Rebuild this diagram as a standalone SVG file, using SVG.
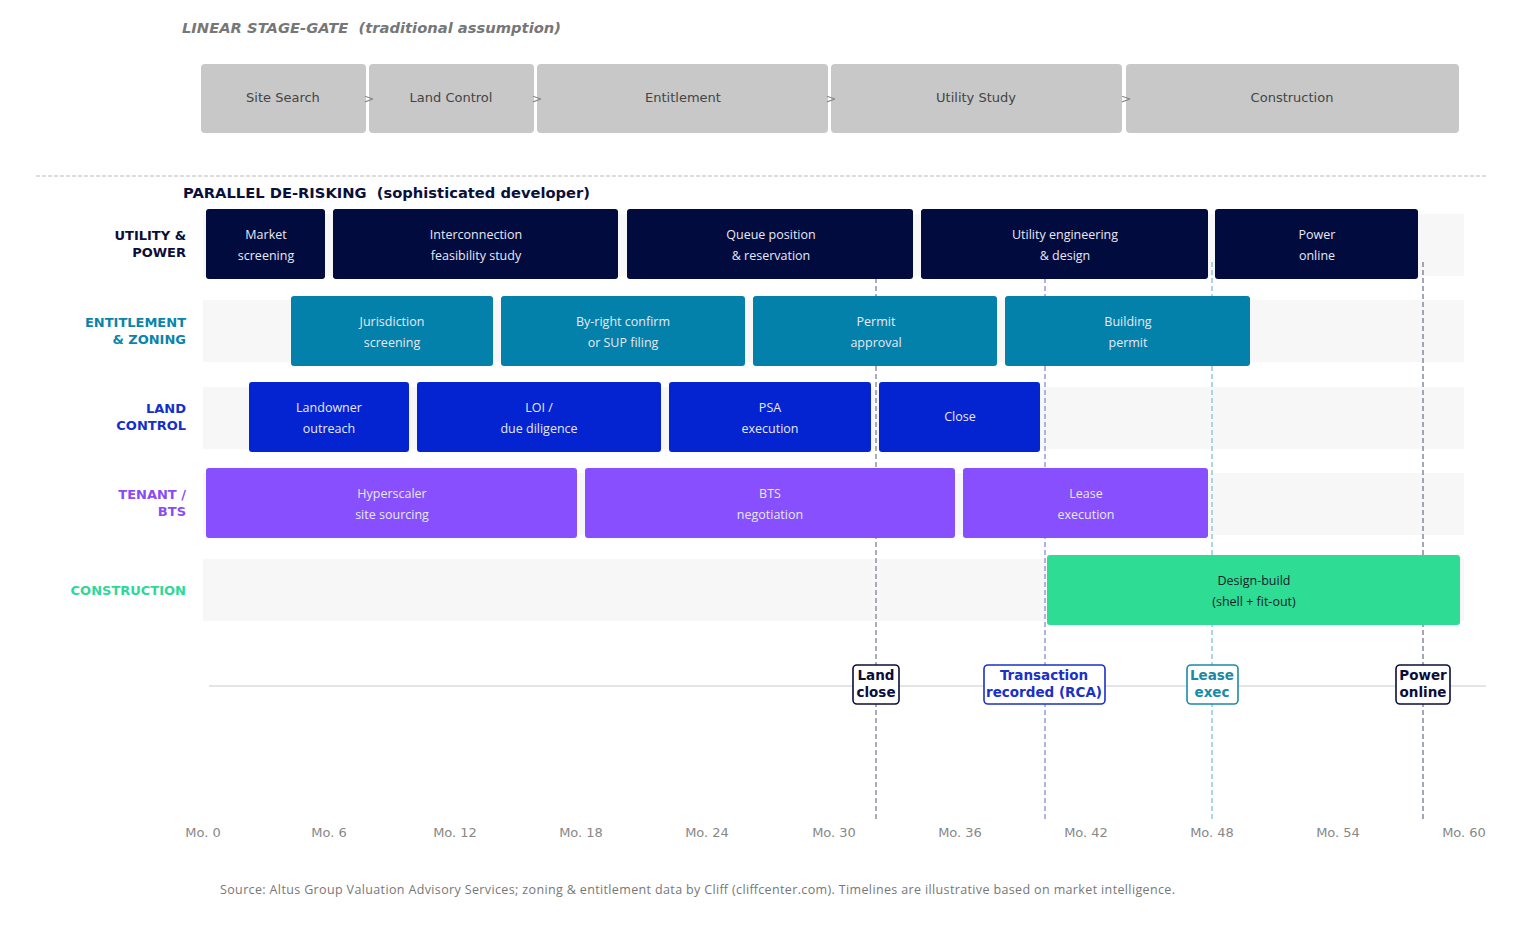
<svg xmlns="http://www.w3.org/2000/svg" width="1515" height="938" viewBox="0 0 1515 938">
<style>
.stage rect{fill:#c8c8c8;}
.stage text{font-family:"DejaVu Sans",sans-serif;font-size:13px;fill:#444;text-anchor:middle;}
.chev{font-family:"DejaVu Sans",sans-serif;font-size:13px;fill:#888;text-anchor:middle;}
.band{fill:#f7f7f7;}
.rowlbl{font-family:"DejaVu Sans",sans-serif;font-size:13px;font-weight:bold;text-anchor:end;}
.bar text{font-family:"Open Sans",sans-serif;font-size:12.5px;text-anchor:middle;fill:#e8e8f4;}
.u rect{fill:#020b3e;}
.e rect{fill:#0381aa;}
.l rect{fill:#0424d2;}
.t rect{fill:#874ffd;}
.c rect{fill:#2edc94;}
.c text{fill:#1a1a2e;}
.axis{font-family:"DejaVu Sans",sans-serif;font-size:13px;fill:#888;text-anchor:middle;}
.ms rect{fill:#fff;stroke-width:1.6;}
.ms text{font-family:"DejaVu Sans",sans-serif;font-size:13.5px;font-weight:bold;text-anchor:middle;}
.mline{stroke-width:1.4;stroke-dasharray:5,3;fill:none;}
</style>
<rect width="1515" height="938" fill="#ffffff"/>
<text x="182" y="33" textLength="379" style="font-family:'DejaVu Sans',sans-serif;font-size:14.7px;font-weight:bold;font-style:italic;fill:#777;white-space:pre">LINEAR STAGE-GATE  (traditional assumption)</text>
<g id="stages" class="stage">
<g id="s-site"><rect x="201" y="64" width="165" height="69" rx="4"/><text x="283" y="102">Site Search</text></g>
<g id="s-land"><rect x="369" y="64" width="165" height="69" rx="4"/><text x="451" y="102">Land Control</text></g>
<g id="s-ent"><rect x="537" y="64" width="291" height="69" rx="4"/><text x="683" y="102">Entitlement</text></g>
<g id="s-util"><rect x="831" y="64" width="291" height="69" rx="4"/><text x="976" y="102">Utility Study</text></g>
<g id="s-cons"><rect x="1126" y="64" width="333" height="69" rx="4"/><text x="1292" y="102">Construction</text></g>
</g>
<g id="stage-connectors">
<text class="chev" x="369" y="103">&gt;</text>
<text class="chev" x="537" y="103">&gt;</text>
<text class="chev" x="831" y="103">&gt;</text>
<text class="chev" x="1126" y="103">&gt;</text>
</g>
<line x1="36" y1="176" x2="1486" y2="176" stroke="#bbbbbb" stroke-width="1" stroke-dasharray="4,2"/>
<text x="183" y="198" textLength="407" style="font-family:'DejaVu Sans',sans-serif;font-size:14.7px;font-weight:bold;fill:#0a0f3c;white-space:pre">PARALLEL DE-RISKING  (sophisticated developer)</text>

<g id="bands">
<rect class="band" x="203" y="214" width="1261" height="62"/>
<rect class="band" x="203" y="300" width="1261" height="62"/>
<rect class="band" x="203" y="387" width="1261" height="62"/>
<rect class="band" x="203" y="473" width="1261" height="62"/>
<rect class="band" x="203" y="559" width="1261" height="62"/>
</g>

<g id="row-labels">
<text class="rowlbl" fill="#0b0d3a" x="186" y="240">UTILITY &amp;</text>
<text class="rowlbl" fill="#0b0d3a" x="186" y="257">POWER</text>
<text class="rowlbl" fill="#0a84aa" x="186" y="327">ENTITLEMENT</text>
<text class="rowlbl" fill="#0a84aa" x="186" y="344">&amp; ZONING</text>
<text class="rowlbl" fill="#1430c8" x="186" y="413">LAND</text>
<text class="rowlbl" fill="#1430c8" x="186" y="430">CONTROL</text>
<text class="rowlbl" fill="#8a4cf6" x="186" y="499">TENANT /</text>
<text class="rowlbl" fill="#8a4cf6" x="186" y="516">BTS</text>
<text class="rowlbl" fill="#2ed899" x="186" y="595">CONSTRUCTION</text>
</g>

<g id="connectors">
<line class="mline" x1="876" y1="262" x2="876" y2="820" stroke="#858aa0"/>
<line class="mline" x1="1045" y1="262" x2="1045" y2="820" stroke="#8f95d8"/>
<line class="mline" x1="1212" y1="262" x2="1212" y2="820" stroke="#8cc4d8"/>
<line class="mline" x1="1423" y1="262" x2="1423" y2="820" stroke="#7c8096"/>
<line x1="209" y1="686" x2="1486" y2="686" stroke="#cccccc" stroke-width="1.2"/>
</g>

<g id="bars">
<g id="u1" class="bar u"><rect x="206" y="209" width="119" height="70" rx="3"/><text x="266" y="239">Market</text><text x="266" y="260">screening</text></g>
<g id="u2" class="bar u"><rect x="333" y="209" width="285" height="70" rx="3"/><text x="476" y="239">Interconnection</text><text x="476" y="260">feasibility study</text></g>
<g id="u3" class="bar u"><rect x="627" y="209" width="286" height="70" rx="3"/><text x="771" y="239">Queue position</text><text x="771" y="260">&amp; reservation</text></g>
<g id="u4" class="bar u"><rect x="921" y="209" width="287" height="70" rx="3"/><text x="1065" y="239">Utility engineering</text><text x="1065" y="260">&amp; design</text></g>
<g id="u5" class="bar u"><rect x="1215" y="209" width="203" height="70" rx="3"/><text x="1317" y="239">Power</text><text x="1317" y="260">online</text></g>

<g id="e1" class="bar e"><rect x="291" y="296" width="202" height="70" rx="3"/><text x="392" y="326">Jurisdiction</text><text x="392" y="347">screening</text></g>
<g id="e2" class="bar e"><rect x="501" y="296" width="244" height="70" rx="3"/><text x="623" y="326">By-right confirm</text><text x="623" y="347">or SUP filing</text></g>
<g id="e3" class="bar e"><rect x="753" y="296" width="244" height="70" rx="3"/><text x="876" y="326">Permit</text><text x="876" y="347">approval</text></g>
<g id="e4" class="bar e"><rect x="1005" y="296" width="245" height="70" rx="3"/><text x="1128" y="326">Building</text><text x="1128" y="347">permit</text></g>

<g id="l1" class="bar l"><rect x="249" y="382" width="160" height="70" rx="3"/><text x="329" y="412">Landowner</text><text x="329" y="433">outreach</text></g>
<g id="l2" class="bar l"><rect x="417" y="382" width="244" height="70" rx="3"/><text x="539" y="412">LOI /</text><text x="539" y="433">due diligence</text></g>
<g id="l3" class="bar l"><rect x="669" y="382" width="202" height="70" rx="3"/><text x="770" y="412">PSA</text><text x="770" y="433">execution</text></g>
<g id="l4" class="bar l"><rect x="879" y="382" width="161" height="70" rx="3"/><text x="960" y="421">Close</text></g>

<g id="t1" class="bar t"><rect x="206" y="468" width="371" height="70" rx="3"/><text x="392" y="498">Hyperscaler</text><text x="392" y="519">site sourcing</text></g>
<g id="t2" class="bar t"><rect x="585" y="468" width="370" height="70" rx="3"/><text x="770" y="498">BTS</text><text x="770" y="519">negotiation</text></g>
<g id="t3" class="bar t"><rect x="963" y="468" width="245" height="70" rx="3"/><text x="1086" y="498">Lease</text><text x="1086" y="519">execution</text></g>

<g id="c1" class="bar c"><rect x="1047" y="555" width="413" height="70" rx="3"/><text x="1254" y="585">Design-build</text><text x="1254" y="606">(shell + fit-out)</text></g>
</g>

<g id="milestones" class="ms">
<g id="m-land"><rect x="853" y="665" width="46" height="39" rx="4" stroke="#0b0d3a"/><text x="876" y="680" fill="#0b0d3a">Land</text><text x="876" y="697" fill="#0b0d3a">close</text></g>
<g id="m-rca"><rect x="984" y="665" width="121" height="39" rx="4" stroke="#1a30c8"/><text x="1044" y="680" fill="#1a30c8">Transaction</text><text x="1044" y="697" fill="#1a30c8">recorded (RCA)</text></g>
<g id="m-lease"><rect x="1187" y="665" width="51" height="39" rx="4" stroke="#1a8aa8"/><text x="1212" y="680" fill="#1a8aa8">Lease</text><text x="1212" y="697" fill="#1a8aa8">exec</text></g>
<g id="m-power"><rect x="1396" y="665" width="54" height="39" rx="4" stroke="#0b0d3a"/><text x="1423" y="680" fill="#0b0d3a">Power</text><text x="1423" y="697" fill="#0b0d3a">online</text></g>
</g>

<g id="axis-labels">
<text class="axis" x="203" y="837">Mo. 0</text>
<text class="axis" x="329" y="837">Mo. 6</text>
<text class="axis" x="455" y="837">Mo. 12</text>
<text class="axis" x="581" y="837">Mo. 18</text>
<text class="axis" x="707" y="837">Mo. 24</text>
<text class="axis" x="834" y="837">Mo. 30</text>
<text class="axis" x="960" y="837">Mo. 36</text>
<text class="axis" x="1086" y="837">Mo. 42</text>
<text class="axis" x="1212" y="837">Mo. 48</text>
<text class="axis" x="1338" y="837">Mo. 54</text>
<text class="axis" x="1464" y="837">Mo. 60</text>
</g>

<text x="220" y="894" textLength="955" style="font-family:'Open Sans',sans-serif;font-size:12.5px;fill:#777">Source: Altus Group Valuation Advisory Services; zoning &amp; entitlement data by Cliff (cliffcenter.com). Timelines are illustrative based on market intelligence.</text>
</svg>
